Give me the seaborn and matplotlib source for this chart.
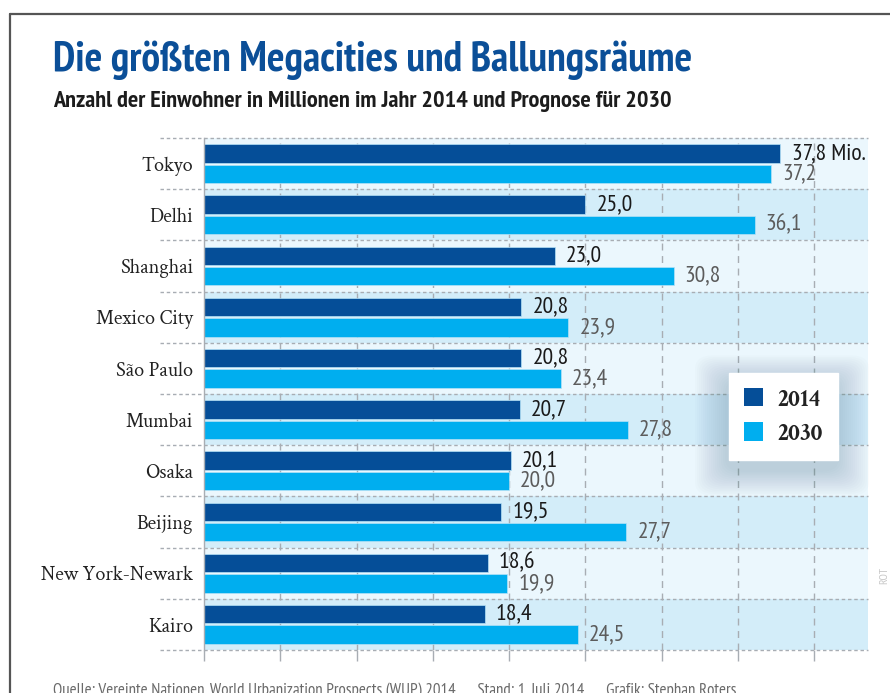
import matplotlib
matplotlib.use("Agg")
import matplotlib.pyplot as plt
import matplotlib.patches as mpatches
from matplotlib.lines import Line2D
import seaborn as sns
import pandas as pd

# ---- data ----
cities = ["Tokyo", "Delhi", "Shanghai", "Mexico City", "São Paulo", "Mumbai",
          "Osaka", "Beijing", "New York-Newark", "Kairo"]
pop_2014 = [37.8, 25.0, 23.0, 20.8, 20.8, 20.7, 20.1, 19.5, 18.6, 18.4]
pop_2030 = [37.2, 36.1, 30.8, 23.9, 23.4, 27.8, 20.0, 27.7, 19.9, 24.5]
years = ["2014", "2030"]
x_ticks = [0, 5, 10, 15, 20, 25, 30, 35, 40]

title = "Die größten Megacities und Ballungsräume"
subtitle = "Anzahl der Einwohner in Millionen im Jahr 2014 und Prognose für 2030"
footer = ("Quelle: Vereinte Nationen, World Urbanization Prospects (WUP) 2014"
          "      Stand: 1. Juli 2014      Grafik: Stephan Roters")

df = pd.DataFrame({
    "Stadt": cities * 2,
    "Einwohner": pop_2014 + pop_2030,
    "Jahr": [years[0]] * len(cities) + [years[1]] * len(cities),
})

C2014 = "#054e98"
C2030 = "#00aeef"
BAND_L = "#ebf7fd"
BAND_D = "#d3edf9"
GRID = "#a8adb3"

sns.set_theme(style="white")
COND = ["PT Sans Narrow", "DejaVu Sans"]
SERIF = ["Crimson Text", "Liberation Serif", "DejaVu Serif"]
plt.rcParams["font.family"] = COND

W, H = 890, 693
fig = plt.figure(figsize=(W / 100, H / 100), dpi=100)
fig.patch.set_facecolor("white")

left, right, top, bottom = 204, 868, 138, 650
ax = fig.add_axes([left / W, 1 - bottom / H, (right - left) / W, (bottom - top) / H])
ax.set_facecolor("white")

# background bands
for i in range(len(cities)):
    ax.axhspan(i - 0.5, i + 0.5, color=BAND_L if i % 2 == 0 else BAND_D, zorder=0, lw=0)

sns.barplot(data=df, y="Stadt", x="Einwohner", hue="Jahr", orient="h",
            palette={years[0]: C2014, years[1]: C2030}, saturation=1,
            width=0.8, gap=0.1, edgecolor="#b5e2f7", linewidth=0.5,
            ax=ax, zorder=3, legend=True)

xmax = (right - left) / 15.25
ax.set_xlim(0, xmax)
ax.set_ylim(len(cities) - 0.5, -0.5)

# vertical grid
for xv in x_ticks[1:]:
    ax.axvline(xv, color=GRID, lw=1.0, ls=(0, (5, 4)), zorder=1)
# horizontal separators (extend into label area)
xl = (160 - left) / 15.25
for i in range(len(cities) + 1):
    ax.plot([xl, xmax], [i - 0.5, i - 0.5], color=GRID, lw=1.0, ls=(0, (2.5, 2)),
            zorder=2, clip_on=False)

# axes styling
for s in ["top", "right", "bottom"]:
    ax.spines[s].set_visible(False)
ax.spines["left"].set_color(GRID)
ax.spines["left"].set_linewidth(1.0)
ax.spines["left"].set_zorder(4)
ax.set_xticks(x_ticks)
ax.set_xticklabels([])
ax.tick_params(axis="x", direction="out", length=8, width=1, color=GRID, bottom=True)
ax.tick_params(axis="y", length=0, pad=8)
for lab in ax.get_yticklabels():
    lab.set_fontfamily(SERIF)
    lab.set_fontsize(14.5)
    lab.set_color("#222222")
ax.set_xlabel("")
ax.set_ylabel("")

# value labels
conts = ax.containers
lab14 = [f"{v:.1f}".replace(".", ",") for v in pop_2014]
lab14[0] = lab14[0] + " Mio."
lab30 = [f"{v:.1f}".replace(".", ",") for v in pop_2030]
ax.bar_label(conts[0], labels=lab14, padding=8, fontsize=17, color="#1a1a1a", zorder=5)
ax.bar_label(conts[1], labels=lab30, padding=8, fontsize=17, color="#5c5c5c", zorder=5)

# legend
handles, labels = ax.get_legend_handles_labels()
leg = ax.legend(handles, labels, loc="upper left",
                bbox_to_anchor=(729 / W, 1 - 373 / H), bbox_transform=fig.transFigure,
                borderaxespad=0, frameon=True, fancybox=False, framealpha=1,
                facecolor="white", edgecolor="white",
                prop={"family": SERIF, "size": 17, "weight": "bold"},
                handlelength=0.8, handleheight=0.8, handletextpad=0.6,
                labelspacing=0.5, borderpad=0.65)
leg.set_zorder(10)
for t in leg.get_texts():
    t.set_color("#222222")
for h in leg.legend_handles:
    h.set_edgecolor("none")

# soft shadow behind legend
for k in range(16, 0, -1):
    pad = k * 2.0
    r = mpatches.FancyBboxPatch(((729 - 2 - pad) / W, 1 - (462 + 8 + pad * 0.8) / H),
                                (110 + 2 * pad) / W, (89 + 1.6 * pad) / H,
                                boxstyle="round,pad=0,rounding_size=0.02",
                                transform=fig.transFigure, facecolor="#587a93",
                                edgecolor="none", alpha=0.02, zorder=9, clip_on=False)
    ax.add_patch(r)

# titles and footer
fig.text(53 / W, 1 - 60 / H, title, fontsize=30, fontweight="bold", color="#0b4f98",
         ha="left", va="center", family=COND)
fig.text(53 / W, 1 - 102 / H, subtitle, fontsize=17.5, fontweight="bold", color="#1c1c1c",
         ha="left", va="center", family=COND)
fig.text(53 / W, 1 - 691 / H, footer, fontsize=12.2, color="#6a6a6a",
         ha="left", va="center", family=COND)
fig.text(884 / W, 1 - 575 / H, "ROT", fontsize=8.5, color="#c8c8c8", rotation=90,
         ha="center", va="center", family=COND)

# page frame
fig.add_artist(Line2D([10 / W, 1.0], [1 - 14 / H, 1 - 14 / H], color="#555555", lw=1.6,
                      transform=fig.transFigure))
fig.add_artist(Line2D([10 / W, 10 / W], [0, 1 - 14 / H], color="#555555", lw=1.6,
                      transform=fig.transFigure))

fig.savefig("out.png", dpi=100, facecolor="white")
